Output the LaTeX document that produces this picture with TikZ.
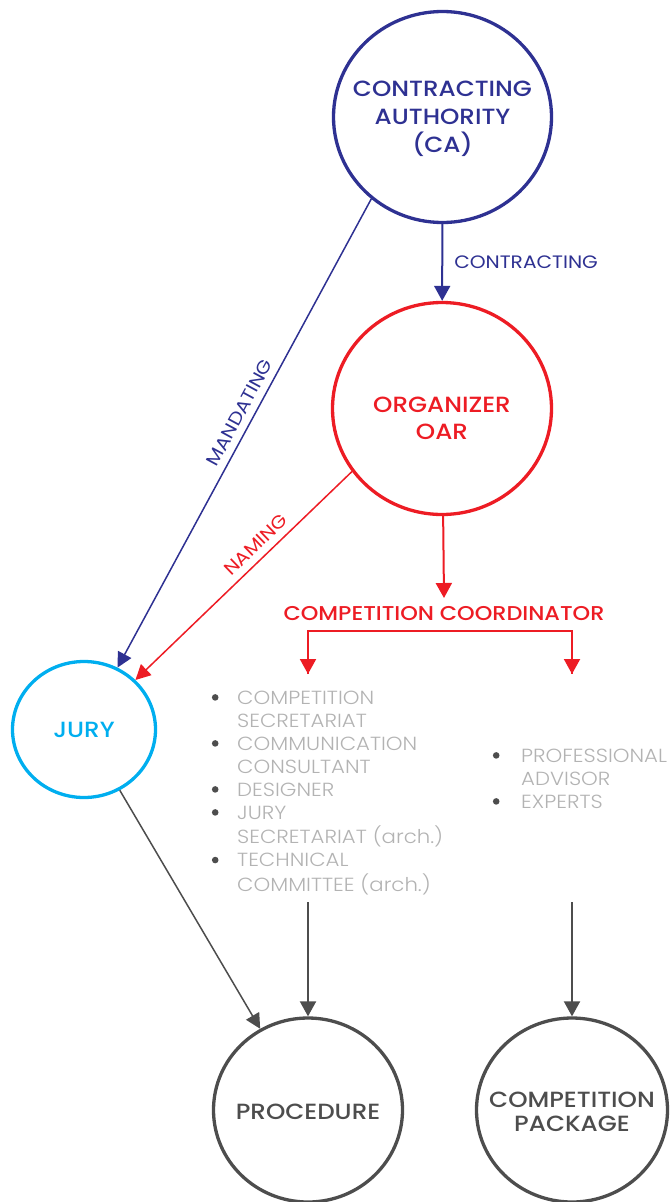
\documentclass[tikz,border=0pt]{standalone}
\usepackage{fontspec}
\setmainfont{Poppins}
\newfontfamily\medfont{Poppins Medium}[FakeStretch=1.12]
\newfontfamily\lightfont{Poppins Light}[FakeStretch=1.12]
\newfontfamily\regfont{Poppins}[FakeStretch=1.12]
\usetikzlibrary{arrows.meta,shapes.geometric}
\definecolor{navy}{HTML}{2E3192}
\definecolor{cred}{HTML}{ED1C24}
\definecolor{ccyan}{HTML}{00AEEF}
\definecolor{dgray}{HTML}{4D4D4D}
\definecolor{lgray}{HTML}{B3B3B3}
\tikzset{
  circ/.style={ellipse, draw, line width=3.3pt, inner sep=0pt},
  ttl/.style={inner sep=0pt, align=center, font=\medfont\fontsize{22}{28}\selectfont},
  conn/.style={line width=2pt, -{Triangle[length=15pt,width=16pt]}},
  thin/.style={line width=1.5pt, -{Triangle[length=15pt,width=15pt]}},
  lbl/.style={inner sep=0pt, font=\regfont\fontsize{18}{20}\selectfont},
  lst/.style={inner sep=0pt, text=lgray, font=\lightfont\fontsize{19}{23}\selectfont}
}
\newcommand{\bul}{\tikz[x=1pt,y=1pt,baseline=0pt]{\fill[dgray] (0,6.6) circle (3.3pt);}}
\begin{document}
\begin{tikzpicture}[x=1pt,y=-1pt]
\useasboundingbox (0,0) rectangle (670,1202);
% circles
\node[circ, draw=navy, minimum width=218pt, minimum height=211pt,
  label={[ttl, text=navy, yshift=-2pt]center:{CONTRACTING\\AUTHORITY\\(CA)}}] (ca) at (442.5,117) {};
\node[circ, draw=cred, minimum width=219pt, minimum height=212pt,
  label={[ttl, text=cred, yshift=-10pt, font=\medfont\fontsize{22}{27}\selectfont]center:{ORGANIZER\\OAR}}] (oar) at (442,408.5) {};
\node[circ, draw=ccyan, minimum width=143pt, minimum height=136pt,
  label={[ttl, text=ccyan]center:JURY}] (jury) at (84,729.5) {};
\node[circ, draw=dgray, minimum width=189pt, minimum height=184pt,
  label={[ttl, text=dgray, yshift=-2pt]center:PROCEDURE}] (proc) at (308,1110) {};
\node[circ, draw=dgray, minimum width=191pt, minimum height=184pt,
  label={[ttl, text=dgray, yshift=-2pt, font=\medfont\fontsize{22}{24}\selectfont]center:{COMPETITION\\PACKAGE}}] (pack) at (572,1110) {};
% coordinator
\node[ttl, text=cred, font=\medfont\fontsize{20}{22}\selectfont] (coord) at (444,614) {COMPETITION COORDINATOR};
\coordinate (bl) at (308,631);
\coordinate (br) at (572,631);
\coordinate (tl) at (308,674);
\coordinate (tr) at (572,674);
% lists
\node[lst, anchor=base west] (listL) at (211.7,704) {\begin{tabular}[t]{@{}p{25.3pt}@{}l@{}}
\bul & COMPETITION\\
 & SECRETARIAT\\
\bul & COMMUNICATION\\
 & CONSULTANT\\
\bul & DESIGNER\\
\bul & JURY\\
 & SECRETARIAT (arch.)\\
\bul & TECHNICAL\\
 & COMMITTEE (arch.)
\end{tabular}};
\node[lst, anchor=base west] (listR) at (492.7,762) {\begin{tabular}[t]{@{}p{28.3pt}@{}l@{}}
\bul & PROFESSIONAL\\
 & ADVISOR\\
\bul & EXPERTS
\end{tabular}};
\coordinate (gl) at (308,902);
\coordinate (gr) at (572,902);
% connectors
\draw[conn, navy] (ca) -- node[lbl, text=navy, right=11pt, midway] (clbl) {CONTRACTING} (oar);
\draw[thin, navy] (ca.229) -- node[lbl, text=navy, sloped, above=7pt, pos=0.47] (mlbl) {MANDATING} (jury);
\draw[thin, cred] (oar.215) -- node[lbl, text=cred, sloped, above=7pt, pos=0.4] (nlbl) {NAMING} (jury);
\draw[conn, cred] (oar) -- (coord.north |- 0,598);
\draw[line width=2pt, cred] (tl) -- (bl) -- (br) -- (tr);
\draw[conn, cred] (bl) -- (tl);
\draw[conn, cred] (br) -- (tr);
\draw[thin, dgray] (jury) -- (proc);
\draw[conn, dgray] (gl) -- (proc);
\draw[conn, dgray] (gr) -- (pack);
\end{tikzpicture}
\end{document}
